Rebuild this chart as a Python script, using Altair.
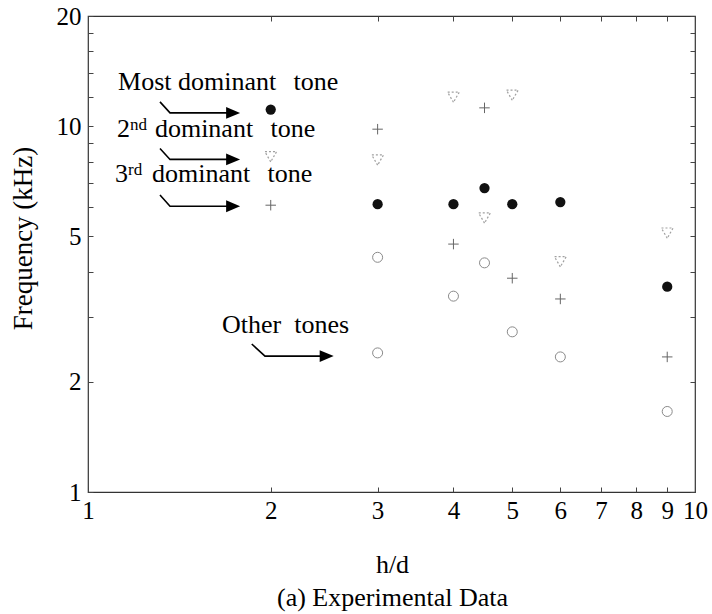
import altair as alt
import pandas as pd

# ---- data ----
hd_most = [2, 3, 4, 4.5, 5, 6, 9]
f_most = [11.1, 6.12, 6.12, 6.77, 6.12, 6.20, 3.64]

hd_second = [2, 3, 4, 4.5, 5, 6, 9]
f_second = [8.25, 8.08, 12.0, 5.61, 12.15, 4.26, 5.10]

hd_third = [2, 3, 4, 4.5, 5, 6, 9]
f_third = [6.08, 9.81, 4.76, 11.22, 3.84, 3.37, 2.34]

hd_other = [3, 3, 4, 4.5, 5, 6, 9]
f_other = [4.38, 2.40, 3.43, 4.23, 2.74, 2.34, 1.66]

x_ticks = [1, 2, 3, 4, 5, 6, 7, 8, 9, 10]
y_ticks = [1, 2, 3, 4, 5, 6, 7, 8, 9, 10, 12, 14, 16, 18, 20]
y_labels = [1, 2, 5, 10, 20]

# annotations (in data units)
main_text = ["Most dominant\u2002\u2006tone", "2", "dominant\u2002\u2006tone",
             "3", "dominant\u2002\u2006tone", "Other\u2002tones"]
main_hd = [1.121, 1.116, 1.289, 1.108, 1.275, 1.663]
main_f = [12.54, 9.33, 9.33, 7.03, 7.03, 2.72]
sup_text = ["nd", "rd"]
sup_hd = [1.173, 1.164]
sup_f = [9.75, 7.35]

arrow_id = [0, 0, 0, 1, 1, 1, 2, 2, 2, 3, 3, 3]
arrow_ord = [0, 1, 2] * 4
arrow_hd = [1.314, 1.365, 1.734, 1.314, 1.365, 1.734,
            1.314, 1.365, 1.734, 1.861, 1.957, 2.473]
arrow_f = [11.65, 10.87, 10.87, 8.69, 8.11, 8.11,
           6.48, 6.04, 6.04, 2.538, 2.352, 2.352]
head_hd = [1.734, 1.734, 1.734, 2.473]
head_f = [10.87, 8.11, 6.04, 2.352]

# ---- build ----
FONT = "Liberation Serif"
xs = alt.Scale(type="log", domain=[1, 10], nice=False)
ys = alt.Scale(type="log", domain=[1, 20], nice=False)

lab_expr = " || ".join(f"datum.value == {v}" for v in y_labels)
lab_expr = f"({lab_expr}) ? format(datum.value, 'd') : ''"

common_axis = dict(domain=False, grid=False, tickSize=5, offset=-5, tickColor="#444",
                   labelFont=FONT, labelFontSize=25, labelColor="#000",
                   labelOverlap=False, labelFlush=False,
                   titleFont=FONT, titleFontWeight="normal", titleColor="#000")

x_bottom = alt.Axis(values=x_ticks, format="d", labelPadding=6,
                    title=["h/d", "(a) Experimental Data"], titleFontSize=26,
                    titleLineHeight=33, titleBaseline="top", titleAlign="center",
                    titleX=304, titleY=64, **common_axis)
y_left = alt.Axis(values=y_ticks, labelExpr=lab_expr, labelPadding=7,
                  title="Frequency (kHz)", titleFontSize=27, titleAngle=-90,
                  titleAlign="center", titleBaseline="middle", titleX=-70, titleY=222,
                  **common_axis)
x_top = alt.Axis(values=x_ticks, orient="top", labels=False, title=None, **common_axis)
y_right = alt.Axis(values=y_ticks, orient="right", labels=False, title=None, **common_axis)

def xe(field, axis=None):
    return alt.X(f"{field}:Q", scale=xs, axis=axis)

def ye(field, axis=None):
    return alt.Y(f"{field}:Q", scale=ys, axis=axis)

df_most = pd.DataFrame({"hd": hd_most, "f": f_most})
df_second = pd.DataFrame({"hd": hd_second, "f": f_second})
df_third = pd.DataFrame({"hd": hd_third, "f": f_third})
df_other = pd.DataFrame({"hd": hd_other, "f": f_other})

most = alt.Chart(df_most).mark_point(shape="circle", filled=True, size=105,
                                     color="#111", opacity=1).encode(
    x=xe("hd", x_bottom), y=ye("f", y_left))
frame_axes = alt.Chart(df_most).mark_point(opacity=0).encode(
    x=xe("hd", x_top), y=ye("f", y_right))
second = alt.Chart(df_second).mark_point(shape="triangle-down", filled=False, size=140,
                                         stroke="#a0a0a0", strokeWidth=1.2,
                                         strokeDash=[2, 2], opacity=1).encode(
    x=xe("hd"), y=ye("f"))
third = alt.Chart(df_third).mark_point(shape="M-1,0L1,0M0,-1L0,1", filled=False, size=110,
                                       stroke="#666", strokeWidth=1, opacity=1).encode(
    x=xe("hd"), y=ye("f"))
other = alt.Chart(df_other).mark_point(shape="circle", filled=False, size=100,
                                       stroke="#8a8a8a", strokeWidth=1, opacity=1).encode(
    x=xe("hd"), y=ye("f"))

df_arrow = pd.DataFrame({"id": arrow_id, "o": arrow_ord, "hd": arrow_hd, "f": arrow_f})
arrows = alt.Chart(df_arrow).mark_line(color="#000", strokeWidth=1.6).encode(
    x=xe("hd"), y=ye("f"), detail="id:N", order="o:Q")
heads = alt.Chart(pd.DataFrame({"hd": head_hd, "f": head_f})).mark_point(
    shape="M-1,-0.85L1,0L-1,0.85Z", filled=True, size=196, color="#000", opacity=1).encode(
    x=xe("hd"), y=ye("f"))

texts = alt.Chart(pd.DataFrame({"t": main_text, "hd": main_hd, "f": main_f})).mark_text(
    font=FONT, fontSize=26, align="left", baseline="alphabetic", color="#000").encode(
    x=xe("hd"), y=ye("f"), text="t:N")
sups = alt.Chart(pd.DataFrame({"t": sup_text, "hd": sup_hd, "f": sup_f})).mark_text(
    font=FONT, fontSize=17, align="left", baseline="alphabetic", color="#000").encode(
    x=xe("hd"), y=ye("f"), text="t:N")

chart = alt.layer(most, frame_axes, second, third, other, arrows, heads, texts, sups).resolve_axis(
    x="independent", y="independent"
).properties(
    width=607, height=476,
    autosize=alt.AutoSizeParams(type="none"),
    padding={"left": 88, "top": 16, "right": 17, "bottom": 122},
    background="#ffffff",
).configure_view(stroke="#333", strokeWidth=1.2)

chart.save("out.html", embed_options={"renderer": "svg", "actions": False})
